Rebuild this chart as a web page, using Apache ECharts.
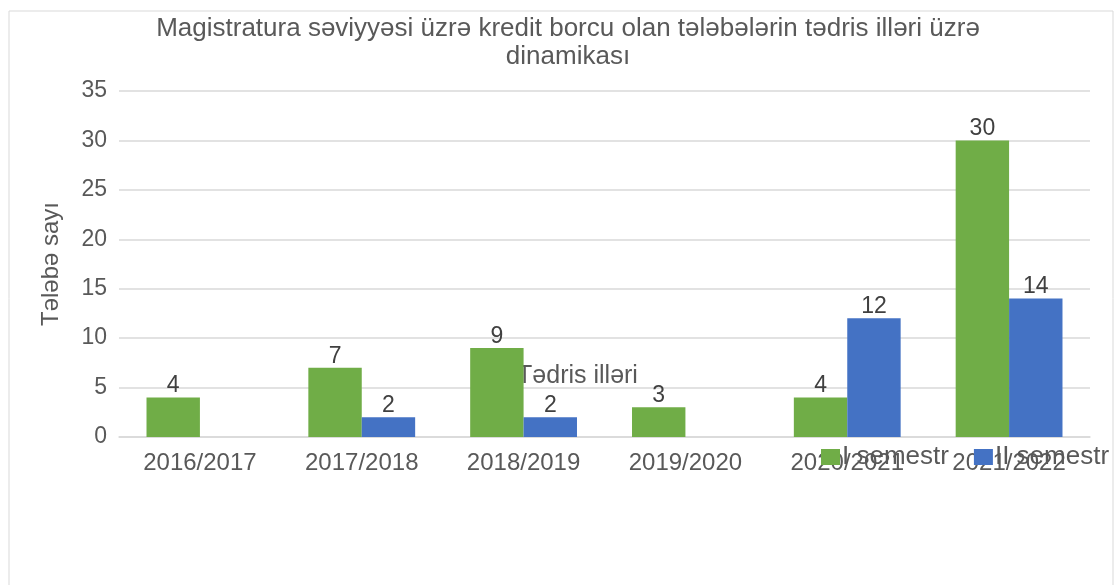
<!DOCTYPE html>
<html>
<head>
<meta charset="utf-8">
<script src="https://cdn.jsdelivr.net/npm/echarts@6/dist/echarts.min.js"></script>
<style>
  html, body { margin: 0; padding: 0; background: #fff; }
  #main { width: 1115px; height: 585px; }
</style>
</head>
<body>
<div id="main"></div>
<script>
var years = ["2016/2017", "2017/2018", "2018/2019", "2019/2020", "2020/2021", "2021/2022"];
var semestr1 = [4, 7, 9, 3, 4, 30];
var semestr2 = [null, 2, 2, null, 12, 14];
var yTicks = [0, 5, 10, 15, 20, 25, 30, 35];

var chart = echarts.init(document.getElementById("main"));
var font = "Liberation Sans, Arial, sans-serif";

var option = {
  backgroundColor: "#fff",
  textStyle: { fontFamily: font },
  animation: false,
  graphic: [
    {
      type: "rect",
      shape: { x: 9, y: 11, width: 1104, height: 580 },
      style: { fill: "none", stroke: "#d9d9d9", lineWidth: 1 }
    }
  ],
  title: {
    text: "Magistratura səviyyəsi üzrə kredit borcu olan tələbələrin tədris illəri üzrə\ndinamikası",
    left: 563,
    textAlign: "center",
    top: 10,
    textStyle: {
      fontFamily: font,
      fontSize: 26,
      fontWeight: "normal",
      color: "#595959",
      lineHeight: 28
    }
  },
  legend: {
    left: 816,
    top: 439,
    itemWidth: 19,
    itemHeight: 16,
    itemGap: 25,
    icon: "rect",
    textStyle: { fontFamily: font, fontSize: 26, color: "#595959", padding: [0, 0, 0, -3] },
    data: ["I semestr", "II semestr"]
  },
  grid: { left: 119, right: 25, top: 91, bottom: 148, containLabel: false },
  xAxis: {
    type: "category",
    data: years,
    name: "Tədris illəri",
    nameLocation: "middle",
    nameGap: -73,
    nameTextStyle: { fontFamily: font, fontSize: 25, color: "#595959", padding: [0, 54, 0, 0] },
    axisLine: { lineStyle: { color: "#d9d9d9", width: 1.5 } },
    axisTick: { show: false },
    axisLabel: { fontFamily: font, fontSize: 24, color: "#595959", margin: 14 }
  },
  yAxis: {
    type: "value",
    min: yTicks[0],
    max: yTicks[yTicks.length - 1],
    interval: 5,
    name: "Tələbə sayı",
    nameLocation: "middle",
    nameGap: 56,
    nameRotate: 90,
    nameTextStyle: { fontFamily: font, fontSize: 24, color: "#595959" },
    axisLine: { show: false },
    axisTick: { show: false },
    axisLabel: { fontFamily: font, fontSize: 23, color: "#595959", margin: 12 },
    splitLine: { lineStyle: { color: "#d9d9d9", width: 1.5 } }
  },
  series: [
    {
      name: "I semestr",
      type: "bar",
      data: semestr1,
      barGap: "0%",
      barCategoryGap: "34%",
      itemStyle: { color: "#70ad47" },
      label: { show: true, position: "top", distance: 0, fontFamily: font, fontSize: 23, color: "#404040" }
    },
    {
      name: "II semestr",
      type: "bar",
      data: semestr2,
      itemStyle: { color: "#4472c4" },
      label: { show: true, position: "top", distance: 0, fontFamily: font, fontSize: 23, color: "#404040" }
    }
  ]
};

chart.setOption(option);
</script>
</body>
</html>
